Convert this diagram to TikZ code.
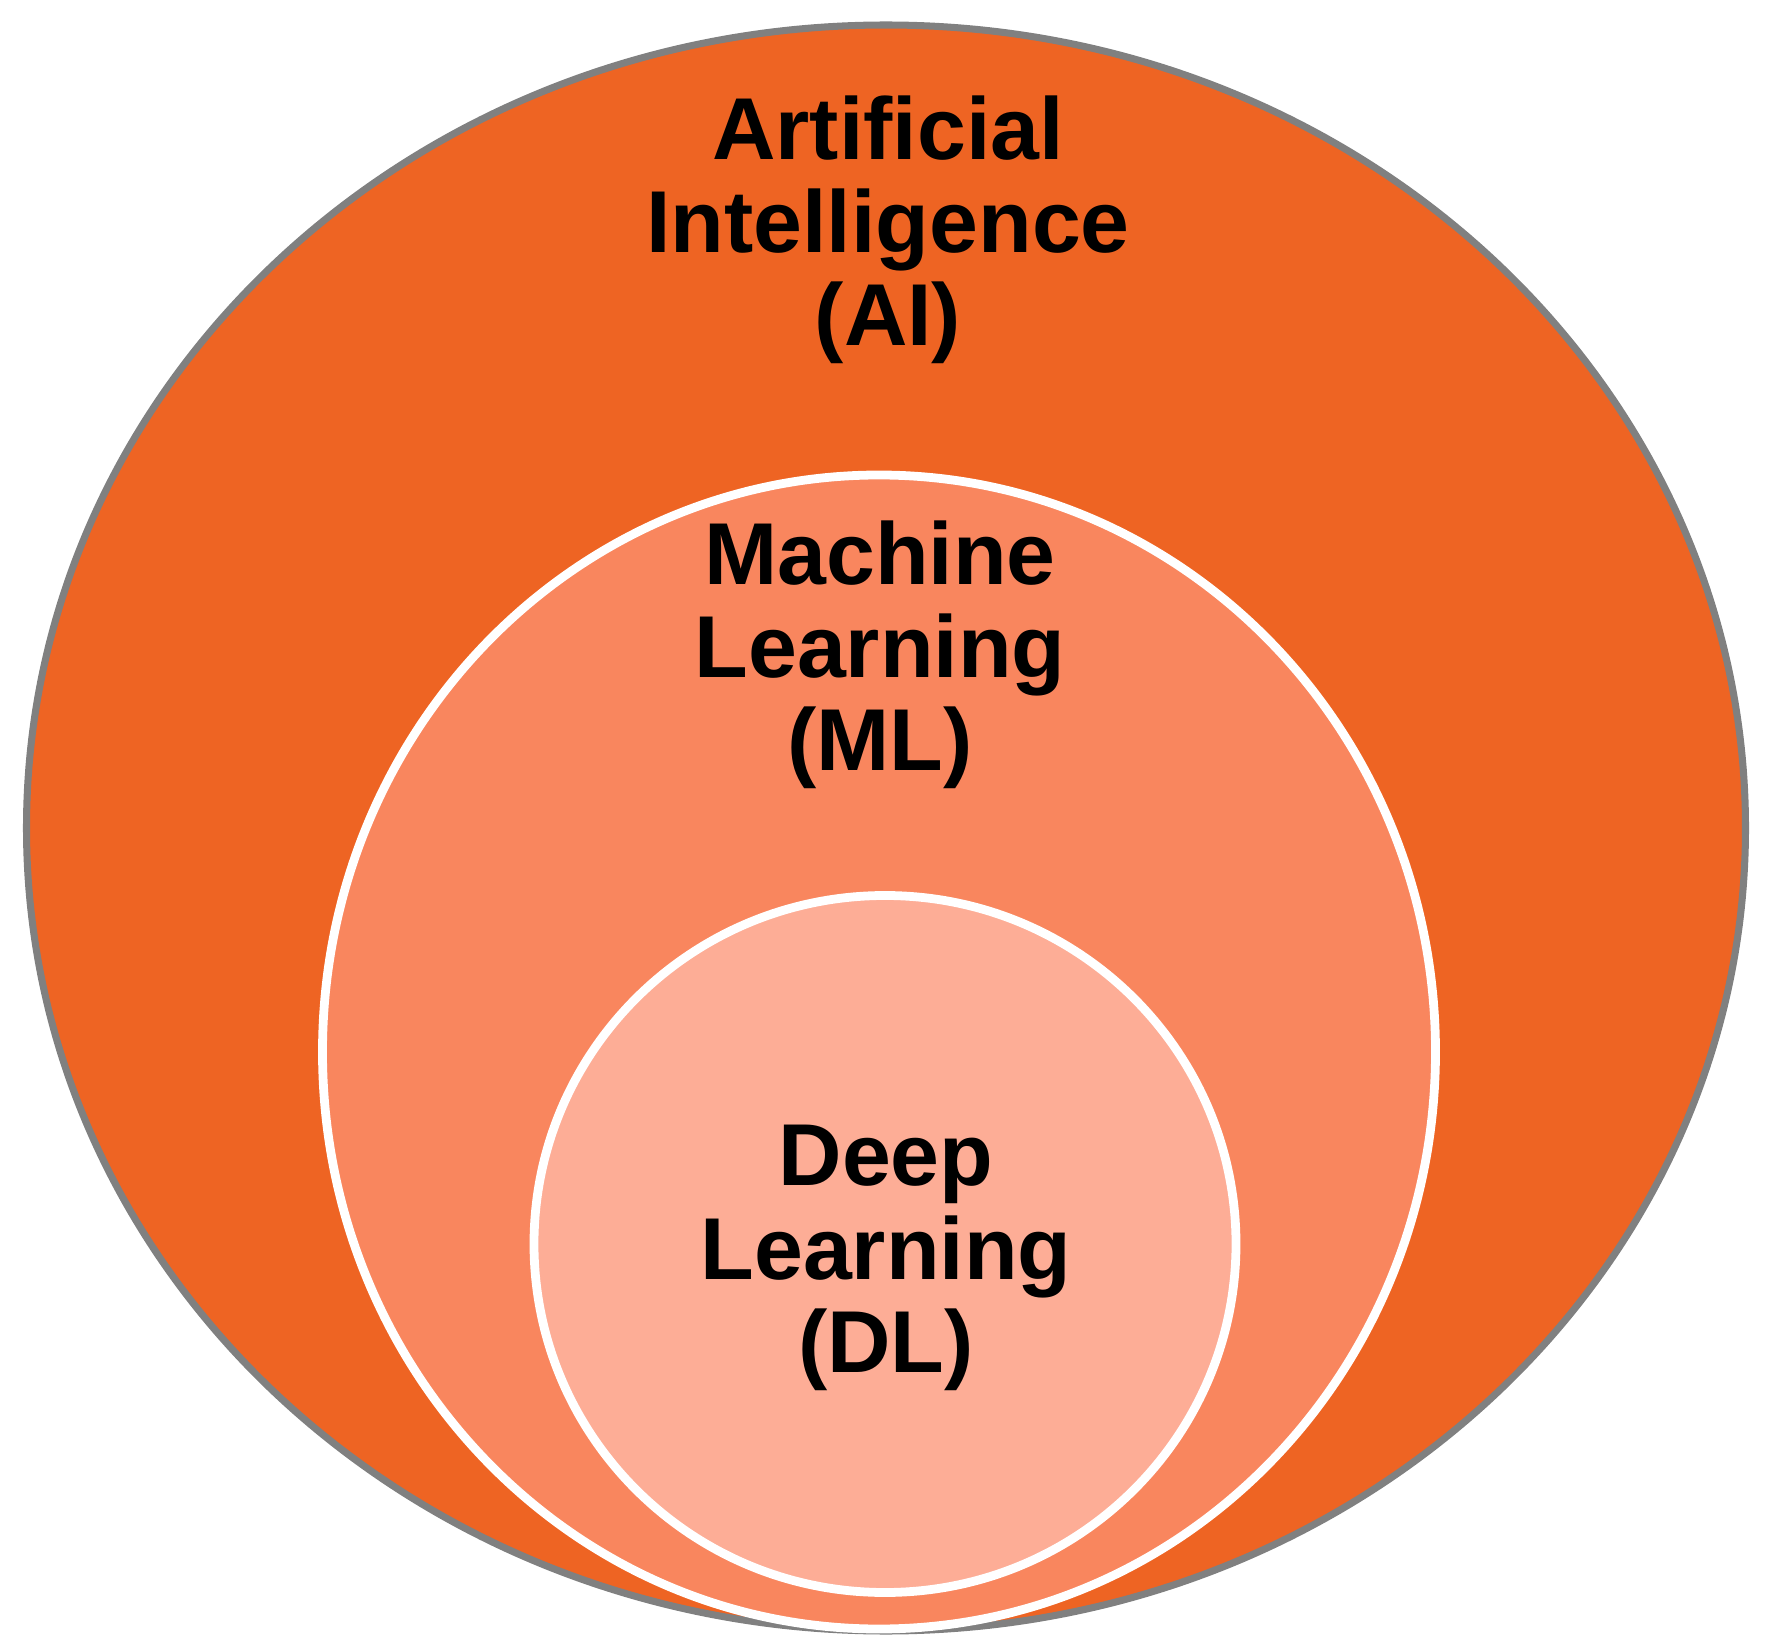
\documentclass[tikz,border=0pt]{standalone}
\usepackage{fontspec}
\setmainfont{Liberation Sans}
\usetikzlibrary{shapes.geometric}
\definecolor{aiorange}{HTML}{EE6423}
\definecolor{mlorange}{HTML}{F9865E}
\definecolor{dlorange}{HTML}{FDAD96}
\tikzset{set/.style = {ellipse, inner sep = 0pt},
         setlabel/.style = {align = center, font = \fontsize{25}{26.5}\selectfont\bfseries}}
\begin{document}
\begin{tikzpicture}
  \useasboundingbox (0,0) rectangle (17.86,16.44);
  \node[set, fill = aiorange, draw = gray, line width = 2pt,
        minimum width = 17.19cm, minimum height = 16.06cm] (AI) at (8.86,8.16) {};
  \node[set, fill = mlorange, draw = white, line width = 2.5pt,
        minimum width = 11.13cm, minimum height = 11.54cm] (ML) at (8.79,5.92) {};
  \node[set, fill = dlorange, draw = white, line width = 2.5pt,
        minimum width = 7.02cm, minimum height = 6.97cm] (DL) at (8.85,4.0) {};
  \node[setlabel] (AItext) at (8.88,14.14) {Artificial\\Intelligence\\(AI)};
  \node[setlabel] (MLtext) at (8.80,9.89) {Machine\\Learning\\(ML)};
  \node[setlabel] (DLtext) at (8.86,3.86) {Deep\\Learning\\(DL)};
\end{tikzpicture}
\end{document}
